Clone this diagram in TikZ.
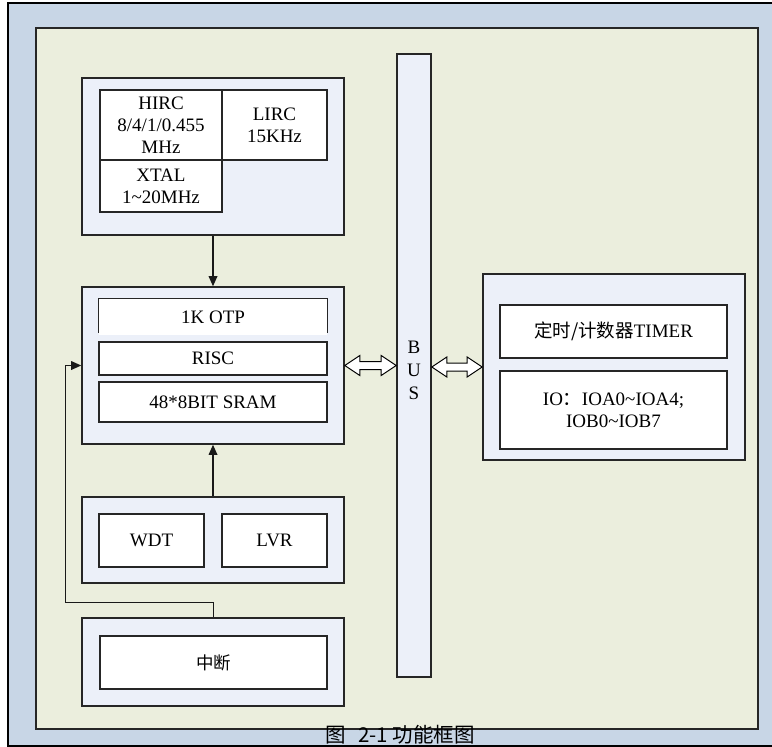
\documentclass[tikz,border=0pt]{standalone}
\usepackage{fontspec}
\setmainfont{Liberation Serif}
\newfontfamily\cjk{Noto Sans CJK SC}
\usetikzlibrary{arrows.meta,calc}
\definecolor{FrameBlue}{RGB}{200,214,230}
\definecolor{BoardGreen}{RGB}{235,238,221}
\definecolor{PanelGray}{RGB}{236,240,249}
\newcommand{\tl}{\textasciitilde}
\newcommand{\busarrow}[2]{%
  \draw[fill=white,line width=1pt] let \p1=#1, \p2=#2 in
    (\x1,\y1) -- (\x1+15pt,\y1+10pt) -- (\x1+15pt,\y1+4pt) -- (\x2-15pt,\y2+4pt)
    -- (\x2-15pt,\y2+10pt) -- (\x2,\y2) -- (\x2-15pt,\y2-10pt) -- (\x2-15pt,\y2-4pt)
    -- (\x1+15pt,\y1-4pt) -- (\x1+15pt,\y1-10pt) -- cycle;}

\begin{document}
\begin{tikzpicture}[x=1pt,y=-1pt,
  wh/.style 2 args={minimum width=#1pt,minimum height=#2pt},
  panel/.style={draw=black!85,line width=1.6pt,fill=PanelGray,inner sep=0pt},
  cell/.style={draw=black!85,line width=1.3pt,fill=white,inner sep=0pt,align=center,
    font=\fontsize{19}{22}\selectfont},
  sig/.style={-{Triangle[length=10pt,width=9pt,line width=0pt]},line width=1.5pt,black!90}]
\useasboundingbox (0,0) rectangle (772,747);
% frame and board
\draw[fill=FrameBlue,line width=1.2pt] (8,3) rectangle (776,746);
\draw[fill=BoardGreen,draw=black!85,line width=1.4pt] (36,28) rectangle (758,729);
% clock
\node[panel,wh={262}{157}] (clk) at (213,156.5) {};
\node[cell,wh={122}{70}] (hirc) at (161,125) {HIRC\\8/4/1/0.455\\MHz};
\node[cell,wh={105}{70}] (lirc) at (274.5,125) {LIRC\\15KHz};
\node[cell,wh={122}{52}] (xtal) at (161,186) {XTAL\\1\tl20MHz};
% core
\node[panel,wh={262}{157}] (cpu) at (213,365.5) {};
\node[cell,draw=none,wh={228}{36}] (otp) at (213,317) {1K OTP};
\draw[line width=1.3pt,black!85] ([yshift=3pt]otp.south west) -- (otp.north west)
  -- (otp.north east) -- ([yshift=3pt]otp.south east);
\node[cell,wh={228}{33}] (risc) at (213,358.5) {RISC};
\node[cell,wh={228}{40}] (sram) at (213,402) {48*8BIT SRAM};
% reset
\node[panel,wh={262}{86}] (rst) at (213,540) {};
\node[cell,wh={105}{53}] (wdt) at (151.5,540.5) {WDT};
\node[cell,wh={105}{53}] (lvr) at (274.5,540.5) {LVR};
% interrupt
\node[panel,wh={262}{88}] (irq) at (213,662) {};
\node[cell,wh={227}{53},font=\cjk\fontsize{17.5}{20}\selectfont] (irqin) at (213.5,662.5) {中断};
% bus
\node[panel,wh={34}{623}] (bus) at (414,365.5) {};
\node[align=center,font=\fontsize{19}{23}\selectfont] (bustxt) at (414,370) {B\\U\\S};
% peripherals
\node[panel,wh={262}{186}] (per) at (614,367) {};
\node[cell,wh={227}{53}] (timer) at (613.5,331.5) {{\cjk\fontsize{18.5}{22}\selectfont 定时/计数器}TIMER};
\node[cell,wh={227}{78}] (io) at (613.5,410) {IO{\cjk：}IOA0\tl IOA4;\\IOB0\tl IOB7};
% connections
\draw[sig] (clk.south) -- (cpu.north);
\draw[sig] (rst.north) -- (cpu.south);
\coordinate (turn) at (65,602);
\draw[sig,line width=1pt] (irq.north) |- (turn) |- (cpu.west);
\busarrow{(cpu.east)}{(cpu.east -| bus.west)}
\busarrow{(bus.east |- per.west)}{(per.west)}
% caption
\node[font=\cjk\fontsize{20.5}{22}\selectfont,inner sep=0pt] (cap) at (400,734.5) {图\hspace{0.6em}2-1 功能框图};
\end{tikzpicture}
\end{document}
